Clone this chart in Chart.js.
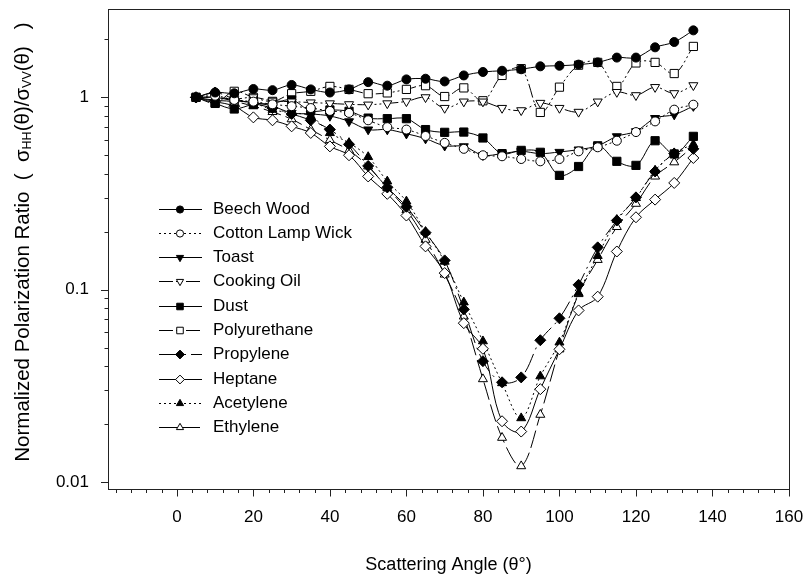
<!DOCTYPE html>
<html>
<head>
<meta charset="utf-8">
<style>
  html, body { margin: 0; padding: 0; background: #fff; }
  #chart { display: block; }
</style>
<script src="https://cdn.jsdelivr.net/npm/chart.js"></script>
</head>
<body>
<canvas id="chart" width="807" height="574"></canvas>
<script>
// Scattering angle (deg) and normalized polarization ratio per sample
const angles = [5, 10, 15, 20, 25, 30, 35, 40, 45, 50, 55, 60, 65, 70, 75, 80, 85, 90, 95, 100, 105, 110, 115, 120, 125, 130, 135];

const beechWood = [1.0, 1.06, 1.05, 1.105, 1.09, 1.16, 1.1, 1.06, 1.1, 1.2, 1.15, 1.24, 1.25, 1.21, 1.3, 1.355, 1.375, 1.4, 1.45, 1.46, 1.48, 1.52, 1.61, 1.61, 1.82, 1.94, 2.23];
const cottonLampWick = [1.0, 1.02, 0.97, 0.95, 0.92, 0.9, 0.88, 0.85, 0.83, 0.76, 0.7, 0.68, 0.63, 0.58, 0.54, 0.5, 0.494, 0.478, 0.465, 0.478, 0.524, 0.55, 0.595, 0.66, 0.75, 0.863, 0.916];
const toast = [1.0, 1.0, 0.96, 0.94, 0.9, 0.83, 0.82, 0.8, 0.75, 0.68, 0.68, 0.647, 0.61, 0.56, 0.556, 0.5, 0.51, 0.524, 0.51, 0.52, 0.535, 0.56, 0.627, 0.666, 0.78, 0.813, 0.9];
const cookingOil = [1.0, 1.0, 0.98, 1.0, 0.96, 0.95, 0.94, 0.93, 0.92, 0.916, 0.93, 0.953, 1.0, 0.88, 0.95, 0.95, 0.88, 0.856, 0.935, 0.88, 0.84, 0.95, 1.065, 1.025, 1.13, 1.05, 1.155];
const dust = [1.0, 0.93, 0.87, 0.92, 0.93, 0.97, 0.85, 0.86, 0.846, 0.78, 0.775, 0.775, 0.68, 0.658, 0.66, 0.615, 0.51, 0.53, 0.518, 0.393, 0.437, 0.56, 0.465, 0.443, 0.595, 0.508, 0.627];
const polyurethane = [1.0, 0.935, 1.075, 1.0, 0.953, 1.045, 1.075, 1.14, 1.1, 1.045, 1.055, 1.1, 1.15, 1.01, 1.12, 0.96, 1.3, 1.41, 0.835, 1.13, 1.47, 1.52, 1.14, 1.51, 1.52, 1.33, 1.84];
const propylene = [1.0, 1.06, 0.98, 0.93, 0.88, 0.82, 0.76, 0.68, 0.57, 0.44, 0.34, 0.27, 0.198, 0.142, 0.079, 0.0425, 0.033, 0.035, 0.0546, 0.071, 0.106, 0.166, 0.229, 0.302, 0.412, 0.51, 0.54];
const heptane = [1.0, 0.95, 0.9, 0.787, 0.76, 0.707, 0.653, 0.556, 0.5, 0.388, 0.315, 0.243, 0.168, 0.122, 0.067, 0.0493, 0.0207, 0.0183, 0.0304, 0.049, 0.078, 0.092, 0.158, 0.238, 0.294, 0.359, 0.484];
const acetylene = [1.0, 1.0, 0.97, 0.935, 0.863, 0.83, 0.8, 0.653, 0.58, 0.49, 0.366, 0.288, 0.2, 0.14, 0.086, 0.054, 0.0327, 0.0215, 0.0355, 0.0532, 0.096, 0.15, 0.231, 0.3, 0.417, 0.513, 0.57];
const ethylene = [1.0, 0.965, 0.95, 0.9, 0.84, 0.77, 0.68, 0.6, 0.53, 0.438, 0.338, 0.26, 0.182, 0.12, 0.0726, 0.0343, 0.017, 0.0121, 0.0224, 0.049, 0.095, 0.143, 0.212, 0.28, 0.388, 0.46, 0.556];

const seriesNames = ['Beech Wood', 'Cotton Lamp Wick', 'Toast', 'Cooking Oil', 'Dust', 'Polyurethane', 'Propylene', 'Heptane', 'Acetylene', 'Ethylene'];
const seriesValues = [beechWood, cottonLampWick, toast, cookingOil, dust, polyurethane, propylene, heptane, acetylene, ethylene];

// axis ticks
const xMajorTicks = [0, 20, 40, 60, 80, 100, 120, 140, 160];
const xMinorStep = 4;
const yLabelTicks = [0.01, 0.1, 1];

const FONT = 'Arial, "Liberation Sans", sans-serif';

// marker + line style for each series (same order as seriesNames)
const DOTTED = [2, 3];
const DASHDOT = [14, 3, 2, 3, 2, 3];
const LONGDASH_DOT = [20, 5, 2, 5];
const LONGDASH = [18, 5];
const styles = [
  { shape: 'circle',   filled: true,  r: 4.5, rot: 0,   dash: [] },
  { shape: 'circle',   filled: false, r: 4.5, rot: 0,   dash: DOTTED },
  { shape: 'triangle', filled: true,  r: 5.2, rot: 180, dash: [] },
  { shape: 'triangle', filled: false, r: 5.2, rot: 180, dash: DASHDOT },
  { shape: 'rect',     filled: true,  r: 5.8, rot: 0,   dash: [] },
  { shape: 'rect',     filled: false, r: 5.8, rot: 0,   dash: DASHDOT },
  { shape: 'rectRot',  filled: true,  r: 5.5, rot: 0,   dash: LONGDASH_DOT },
  { shape: 'rectRot',  filled: false, r: 5.5, rot: 0,   dash: [] },
  { shape: 'triangle', filled: true,  r: 5.2, rot: 0,   dash: DOTTED },
  { shape: 'triangle', filled: false, r: 5.2, rot: 0,   dash: LONGDASH }
];

const datasets = seriesNames.map((name, i) => {
  const s = styles[i];
  return {
    label: name,
    data: angles.map((a, k) => ({ x: a, y: seriesValues[i][k] })),
    borderColor: '#000',
    borderWidth: 1,
    borderDash: s.dash,
    tension: 0.35,
    fill: false,
    pointStyle: s.shape,
    pointRotation: s.rot,
    pointRadius: s.r,
    pointBorderWidth: 1,
    pointBorderColor: '#000',
    pointBackgroundColor: s.filled ? '#000' : '#fff'
  };
});

function isLabelTick(v) {
  return yLabelTicks.some(t => Math.abs(t - v) < t * 1e-6);
}

function noPadding(scale) {
  scale.paddingTop = 0;
  scale.paddingBottom = 0;
  scale.paddingLeft = 0;
  scale.paddingRight = 0;
}

// frame, tick marks, y title with subscripts and the legend
const decorPlugin = {
  id: 'decor',
  afterDraw(chart) {
    const { ctx, chartArea: a, scales: { x, y } } = chart;
    ctx.save();
    ctx.strokeStyle = '#222';
    ctx.lineWidth = 1;
    ctx.setLineDash([]);
    ctx.strokeRect(Math.round(a.left) + 0.5, Math.round(a.top) + 0.5,
      Math.round(a.right - a.left), Math.round(a.bottom - a.top));

    ctx.beginPath();
    x.ticks.forEach(t => {
      const px = Math.round(x.getPixelForValue(t.value)) + 0.5;
      const len = xMajorTicks.includes(t.value) ? 7 : 3.5;
      ctx.moveTo(px, Math.round(a.bottom) + 0.5);
      ctx.lineTo(px, Math.round(a.bottom) + 0.5 + len);
    });
    y.ticks.forEach(t => {
      const py = Math.round(y.getPixelForValue(t.value)) + 0.5;
      const len = isLabelTick(t.value) ? 7.5 : 4;
      ctx.moveTo(Math.round(a.left) + 0.5, py);
      ctx.lineTo(Math.round(a.left) + 0.5 - len, py);
    });
    ctx.stroke();

    // y axis title
    ctx.fillStyle = '#000';
    ctx.translate(23, 242);
    ctx.rotate(-Math.PI / 2);
    const parts = [
      { t: 'Normalized Polarization Ratio  (  \u03c3', sub: false },
      { t: 'HH', sub: true },
      { t: '(\u03b8)/\u03c3', sub: false },
      { t: 'VV', sub: true },
      { t: '(\u03b8)   )', sub: false }
    ];
    const mainFont = '20.5px ' + FONT;
    const subFont = '12.5px ' + FONT;
    let total = 0;
    parts.forEach(p => { ctx.font = p.sub ? subFont : mainFont; p.w = ctx.measureText(p.t).width; total += p.w; });
    let cx = -total / 2;
    ctx.textBaseline = 'middle';
    ctx.textAlign = 'left';
    parts.forEach(p => {
      ctx.font = p.sub ? subFont : mainFont;
      ctx.fillText(p.t, cx, p.sub ? 5 : 0);
      cx += p.w;
    });
    ctx.setTransform(1, 0, 0, 1, 0, 0);

    // legend
    const lx0 = 159, lx1 = 202, mx = 180, tx = 213, ly0 = 208.5, dy = 24.3;
    chart.data.datasets.forEach((ds, i) => {
      const ly = Math.round(ly0 + i * dy) + 0.5;
      ctx.strokeStyle = '#000';
      ctx.lineWidth = 1;
      ctx.setLineDash(ds.borderDash);
      ctx.beginPath();
      ctx.moveTo(lx0, ly);
      ctx.lineTo(lx1, ly);
      ctx.stroke();
      ctx.setLineDash([]);
      ctx.fillStyle = ds.pointBackgroundColor;
      Chart.helpers.drawPoint(ctx, {
        pointStyle: ds.pointStyle,
        rotation: ds.pointRotation,
        radius: ds.pointRadius * 0.8,
        borderWidth: 1
      }, mx, ly);
      ctx.fillStyle = '#000';
      ctx.font = '17px ' + FONT;
      ctx.textBaseline = 'middle';
      ctx.fillText(ds.label, tx, ly);
    });
    ctx.restore();
  }
};

new Chart(document.getElementById('chart'), {
  type: 'line',
  data: { datasets },
  options: {
    responsive: false,
    animation: false,
    devicePixelRatio: 1,
    layout: { padding: { left: 0, top: 9, right: 18, bottom: 0 } },
    plugins: { legend: { display: false }, tooltip: { enabled: false } },
    scales: {
      x: {
        type: 'linear',
        min: -18,
        max: 160,
        grid: { display: false, drawTicks: false },
        border: { display: false },
        afterBuildTicks: scale => {
          const t = [];
          for (let v = -16; v <= 160; v += xMinorStep) t.push({ value: v });
          scale.ticks = t;
        },
        afterFit: scale => { scale.height = 574 - 489; noPadding(scale); },
        ticks: {
          autoSkip: false,
          maxRotation: 0,
          padding: 18,
          color: '#000',
          font: { family: FONT, size: 17 },
          callback: v => (xMajorTicks.includes(v) ? String(v) : '')
        },
        title: {
          display: true,
          text: 'Scattering Angle (\u03b8\u00b0)',
          color: '#000',
          font: { family: FONT, size: 18, lineHeight: 1 },
          padding: { top: 0, bottom: 0 }
        }
      },
      y: {
        type: 'logarithmic',
        min: 0.0092,
        max: 2.88,
        grid: { display: false, drawTicks: false },
        border: { display: false },
        afterBuildTicks: scale => {
          const t = [];
          [0.01, 0.1, 1].forEach(d => {
            for (let m = 1; m <= 9; m++) {
              const v = +(m * d).toPrecision(3);
              if (v >= scale.min && v <= scale.max) t.push({ value: v });
            }
          });
          scale.ticks = t;
        },
        afterFit: scale => { scale.width = 108; noPadding(scale); },
        ticks: {
          autoSkip: false,
          padding: 19,
          color: '#000',
          font: { family: FONT, size: 17 },
          callback: v => (isLabelTick(v) ? String(v) : '')
        }
      }
    }
  },
  plugins: [decorPlugin]
});
</script>
</body>
</html>
